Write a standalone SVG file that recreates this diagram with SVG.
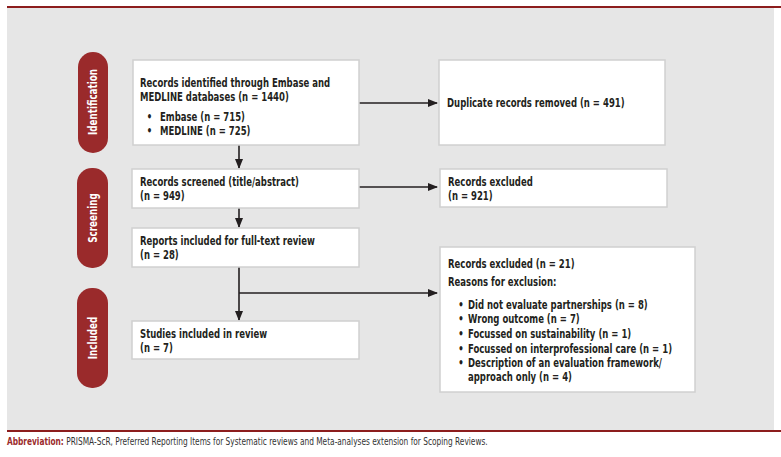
<svg xmlns="http://www.w3.org/2000/svg" width="781" height="457" viewBox="0 0 781 457">
<style>
.t{font-family:"DejaVu Sans Condensed","Liberation Sans",sans-serif;font-weight:bold;font-size:12.8px;fill:#231f20}
.box{fill:#fff;stroke:#d0d0d0;stroke-width:1.5}
.pill{fill:#9a2a2b}
.pl{font-family:"DejaVu Sans Condensed","Liberation Sans",sans-serif;font-weight:bold;font-size:12.5px;fill:#fff;text-anchor:middle}
.c{stroke:#231f20;stroke-width:1.6;fill:none}
.f{font-family:"DejaVu Sans Condensed","Liberation Sans",sans-serif;font-size:10px;fill:#333}
</style>
<defs>
<marker id="ah" markerWidth="10" markerHeight="8" refX="9" refY="4" orient="auto" markerUnits="userSpaceOnUse">
<path d="M0,0 L10,4 L0,8 z" fill="#231f20"/>
</marker>
</defs>
<rect x="0" y="0" width="781" height="457" fill="#fff"/>
<rect x="7" y="8" width="767" height="422" fill="#e6e6e6"/>
<line x1="7" y1="7" x2="781" y2="7" stroke="#8c1d1d" stroke-width="2"/>
<line x1="7" y1="431" x2="781" y2="431" stroke="#8c1d1d" stroke-width="2"/>

<g id="pill-identification"><rect class="pill" x="78" y="52" width="30" height="101" rx="15"/><text class="pl" transform="translate(97,102) rotate(-90) scale(0.78,1)">Identification</text></g>
<g id="pill-screening"><rect class="pill" x="77" y="168" width="31" height="100" rx="15"/><text class="pl" transform="translate(97,218) rotate(-90) scale(0.78,1)">Screening</text></g>
<g id="pill-included"><rect class="pill" x="77" y="288" width="31" height="100" rx="15"/><text class="pl" transform="translate(97,338) rotate(-90) scale(0.78,1)">Included</text></g>

<g id="connectors">
<line class="c" x1="359" y1="103" x2="437" y2="103" marker-end="url(#ah)"/>
<line class="c" x1="359" y1="187" x2="437" y2="187" marker-end="url(#ah)"/>
<line class="c" x1="239" y1="145" x2="239" y2="168" marker-end="url(#ah)"/>
<line class="c" x1="239" y1="208" x2="239" y2="227" marker-end="url(#ah)"/>
<line class="c" x1="239" y1="267" x2="239" y2="320" marker-end="url(#ah)"/>
<line class="c" x1="239" y1="293" x2="437" y2="293" marker-end="url(#ah)"/>
</g>

<g id="node-identified"><rect class="box" x="133" y="60" width="226" height="85"/>
<g transform="translate(140,0) scale(0.74,1)">
<text class="t" x="0" y="87">Records identified through Embase and</text>
<text class="t" x="0" y="101">MEDLINE databases (n = 1440)</text>
<text class="t" x="9" y="121">•</text><text class="t" x="27" y="121">Embase (n = 715)</text>
<text class="t" x="9" y="135">•</text><text class="t" x="27" y="135">MEDLINE (n = 725)</text>
</g></g>
<g id="node-duplicates"><rect class="box" x="439" y="60" width="226" height="85"/>
<g transform="translate(447,0) scale(0.74,1)"><text class="t" x="0" y="107">Duplicate records removed (n = 491)</text></g></g>
<g id="node-screened"><rect class="box" x="132" y="169" width="227" height="39"/>
<g transform="translate(140,0) scale(0.74,1)">
<text class="t" x="0" y="186">Records screened (title/abstract)</text>
<text class="t" x="0" y="200">(n = 949)</text></g></g>
<g id="node-excluded1"><rect class="box" x="440" y="169" width="227" height="38"/>
<g transform="translate(448,0) scale(0.74,1)">
<text class="t" x="0" y="186">Records excluded</text>
<text class="t" x="0" y="200">(n = 921)</text></g></g>
<g id="node-fulltext"><rect class="box" x="132" y="228" width="227" height="39"/>
<g transform="translate(140,0) scale(0.74,1)">
<text class="t" x="0" y="245">Reports included for full-text review</text>
<text class="t" x="0" y="259">(n = 28)</text></g></g>
<g id="node-included"><rect class="box" x="132" y="321" width="227" height="38"/>
<g transform="translate(140,0) scale(0.74,1)">
<text class="t" x="0" y="338">Studies included in review</text>
<text class="t" x="0" y="352">(n = 7)</text></g></g>
<g id="node-excluded2"><rect class="box" x="440" y="247" width="255" height="145"/>
<g transform="translate(448,0) scale(0.74,1)">
<text class="t" x="0" y="268">Records excluded (n = 21)</text>
<text class="t" x="0" y="286">Reasons for exclusion:</text>
<text class="t" x="14" y="309">•</text><text class="t" x="27" y="309">Did not evaluate partnerships (n = 8)</text>
<text class="t" x="14" y="323">•</text><text class="t" x="27" y="323">Wrong outcome (n = 7)</text>
<text class="t" x="14" y="338">•</text><text class="t" x="27" y="338">Focussed on sustainability (n = 1)</text>
<text class="t" x="14" y="353">•</text><text class="t" x="27" y="353">Focussed on interprofessional care (n = 1)</text>
<text class="t" x="14" y="367">•</text><text class="t" x="27" y="367">Description of an evaluation framework/</text>
<text class="t" x="27" y="381">approach only (n = 4)</text>
</g></g>
<g transform="translate(7,0) scale(0.825,1)">
<text class="f" x="0" y="445"><tspan fill="#9a2a2b" font-weight="bold">Abbreviation:</tspan> PRISMA-ScR, Preferred Reporting Items for Systematic reviews and Meta-analyses extension for Scoping Reviews.</text>
</g>
</svg>
